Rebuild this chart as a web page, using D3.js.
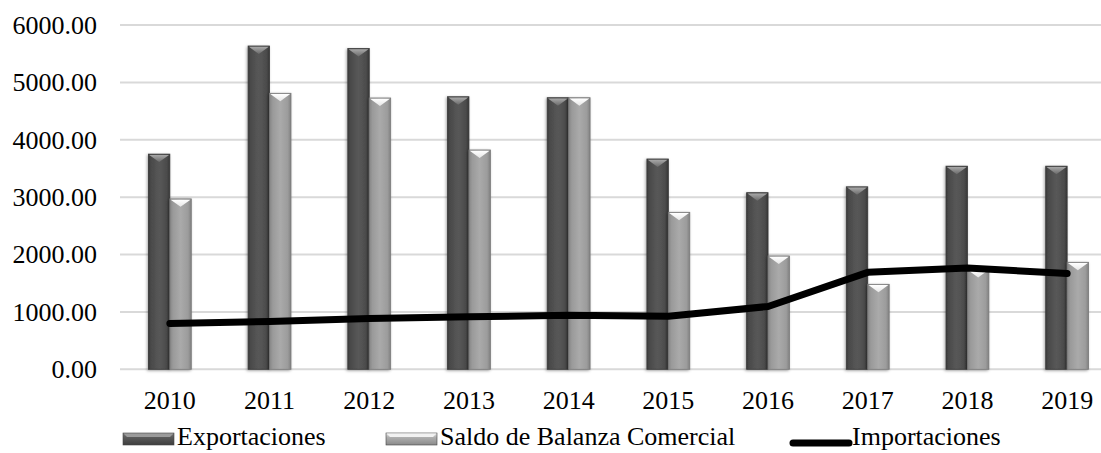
<!DOCTYPE html>
<html>
<head>
<meta charset="utf-8">
<script src="https://cdn.jsdelivr.net/npm/d3@7/dist/d3.min.js"></script>
<style>
  html, body { margin: 0; padding: 0; background: #ffffff; }
  svg { display: block; }
  text { font-family: "Liberation Serif", "Times New Roman", serif; fill: #000; }
</style>
</head>
<body>
<svg id="chart" width="1101" height="453"></svg>
<script>
// Years on the category axis
const years = ["2010", "2011", "2012", "2013", "2014", "2015", "2016", "2017", "2018", "2019"];
// Series values
const exportaciones = [3750, 5634, 5590, 4750, 4733, 3665, 3078, 3180, 3540, 3540];
const saldoBalanza = [2970, 4810, 4728, 3822, 4733, 2736, 1975, 1481, 1740, 1865];
const importaciones = [800, 835, 885, 915, 940, 925, 1095, 1690, 1765, 1670];
// Value axis ticks
const yTicks = [0, 1000, 2000, 3000, 4000, 5000, 6000];
// Series names for the legend
const seriesNames = ["Exportaciones", "Saldo de Balanza Comercial", "Importaciones"];

const svg = d3.select("#chart");
const W = 1101, H = 453;

const x = d3.scaleBand().domain(years).range([120, 1117]).paddingInner(0.57).paddingOuter(0.285);
const xs = d3.scaleBand().domain(["exp", "sal"]).range([0, x.bandwidth()]);
const y = d3.scaleLinear().domain([0, 6000]).range([369.3, 25]);

// Definitions: gradients and shadow
const defs = svg.append("defs");
function hGrad(id, stops) {
  const g = defs.append("linearGradient").attr("id", id).attr("x1", "0").attr("x2", "1").attr("y1", "0").attr("y2", "0");
  stops.forEach(s => g.append("stop").attr("offset", s[0]).attr("stop-color", s[1]));
}
function vGrad(id, stops) {
  const g = defs.append("linearGradient").attr("id", id).attr("x1", "0").attr("x2", "0").attr("y1", "0").attr("y2", "1");
  stops.forEach(s => g.append("stop").attr("offset", s[0]).attr("stop-color", s[1]));
}
hGrad("gDark", [["0%", "#3a3a3a"], ["12%", "#4a4a4a"], ["50%", "#585858"], ["85%", "#4c4c4c"], ["100%", "#363636"]]);
hGrad("gLight", [["0%", "#858585"], ["15%", "#9a9a9a"], ["50%", "#aaaaaa"], ["85%", "#9c9c9c"], ["100%", "#808080"]]);
vGrad("gDarkTop", [["0%", "#a8a8a8"], ["100%", "#6a6a6a"]]);
vGrad("gLightTop", [["0%", "#ffffff"], ["100%", "#e6e6e6"]]);
vGrad("gDarkSw", [["0%", "#7a7a7a"], ["35%", "#5a5a5a"], ["100%", "#3e3e3e"]]);
vGrad("gLightSw", [["0%", "#e8e8e8"], ["35%", "#b0b0b0"], ["100%", "#8a8a8a"]]);

const shadow = defs.append("filter").attr("id", "shadow").attr("x", "-30%").attr("y", "-10%").attr("width", "160%").attr("height", "120%");
shadow.append("feDropShadow").attr("dx", -1).attr("dy", 1).attr("stdDeviation", 1.6)
  .attr("flood-color", "#000").attr("flood-opacity", 0.35);

// Gridlines
svg.append("g").selectAll("line").data(yTicks).join("line")
  .attr("x1", 120).attr("x2", W)
  .attr("y1", d => y(d)).attr("y2", d => y(d))
  .attr("stroke", "#d9d9d9").attr("stroke-width", 2);

// Value axis labels
svg.append("g").selectAll("text").data(yTicks).join("text")
  .attr("x", 97).attr("y", d => y(d)).attr("dy", "0.34em")
  .attr("text-anchor", "end").attr("font-size", 26)
  .text(d => d3.format(".2f")(d));

// Category labels
svg.append("g").selectAll("text").data(years).join("text")
  .attr("x", d => x(d) + x.bandwidth() / 2).attr("y", 409)
  .attr("text-anchor", "middle").attr("font-size", 26)
  .text(d => d);

// Bars with bevelled tops
const barData = [];
years.forEach((yr, i) => {
  barData.push({ year: yr, key: "exp", value: exportaciones[i] });
  barData.push({ year: yr, key: "sal", value: saldoBalanza[i] });
});

const bars = svg.append("g").selectAll("g").data(barData).join("g");
bars.each(function(d) {
  const g = d3.select(this);
  const bx = x(d.year) + xs(d.key);
  const bw = xs.bandwidth();
  const top = y(d.value);
  const base = y(0);
  const dark = d.key === "exp";
  g.append("rect")
    .attr("x", bx).attr("y", top).attr("width", bw).attr("height", base - top)
    .attr("fill", dark ? "url(#gDark)" : "url(#gLight)")
    .attr("stroke", dark ? "#3a3a3a" : "#7a7a7a").attr("stroke-width", 0.8)
    .attr("filter", "url(#shadow)");
  const tipH = 8;
  g.append("polygon")
    .attr("points", [[bx + 0.8, top + 0.8], [bx + bw - 0.8, top + 0.8], [bx + bw / 2, top + tipH]].map(p => p.join(",")).join(" "))
    .attr("fill", dark ? "url(#gDarkTop)" : "url(#gLightTop)");
});

// Importaciones line
const line = d3.line()
  .x((d, i) => x(years[i]) + x.bandwidth() / 2)
  .y(d => y(d));
svg.append("path")
  .datum(importaciones)
  .attr("d", line)
  .attr("fill", "none").attr("stroke", "#000").attr("stroke-width", 7)
  .attr("stroke-linejoin", "round").attr("stroke-linecap", "round");

// Legend
const lg = svg.append("g");
function legendSwatch(x0, grad, topColor) {
  const sw = 51, sh = 12, yTop = 433;
  lg.append("rect").attr("x", x0).attr("y", yTop).attr("width", sw).attr("height", sh)
    .attr("fill", grad).attr("stroke", "#444").attr("stroke-width", 0.6);
  lg.append("polygon")
    .attr("points", [[x0 + 0.5, yTop + 0.5], [x0 + sw - 0.5, yTop + 0.5], [x0 + sw - 4, yTop + 4], [x0 + 4, yTop + 4]].map(p => p.join(",")).join(" "))
    .attr("fill", topColor);
}
legendSwatch(123, "url(#gDarkSw)", "#9a9a9a");
lg.append("text").attr("x", 177).attr("y", 445).attr("font-size", 26).text(seriesNames[0]);
legendSwatch(386, "url(#gLightSw)", "#f2f2f2");
lg.append("text").attr("x", 440).attr("y", 445).attr("font-size", 26).text(seriesNames[1]);
lg.append("line").attr("x1", 793).attr("x2", 849).attr("y1", 443).attr("y2", 443)
  .attr("stroke", "#000").attr("stroke-width", 7).attr("stroke-linecap", "round");
lg.append("text").attr("x", 852).attr("y", 445).attr("font-size", 26).text(seriesNames[2]);
</script>
</body>
</html>
